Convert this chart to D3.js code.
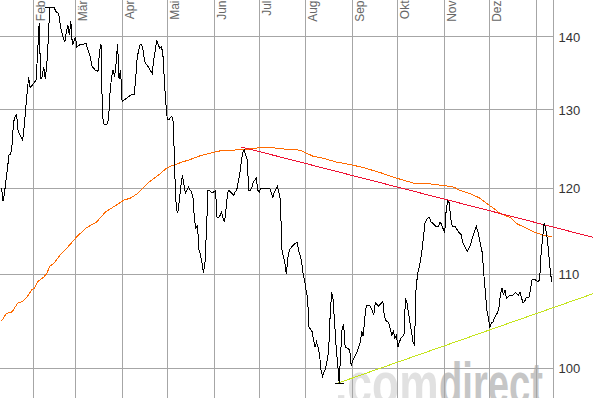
<!DOCTYPE html>
<html>
<head>
<meta charset="utf-8">
<style>
    body { margin: 0; background: #fff; }
    svg { display: block; font-family: "Liberation Sans", Arial, sans-serif; }
</style>
</head>
<body>
<svg id="chart"></svg>
<script src="https://cdn.jsdelivr.net/npm/d3@7/dist/d3.min.js"></script>
<script>
// Month labels (German), starting with January
const monthLabels = ['Jan', 'Feb', 'Mär', 'Apr', 'Mai', 'Jun', 'Jul', 'Aug', 'Sep', 'Okt', 'Nov', 'Dez'];
const yTicks = [100, 110, 120, 130, 140];

// Daily closing prices
const priceDates = [
    '2010-01-11', '2010-01-12', '2010-01-13', '2010-01-14', '2010-01-15', '2010-01-16', '2010-01-17', '2010-01-18',
    '2010-01-19', '2010-01-20', '2010-01-21', '2010-01-22', '2010-01-23', '2010-01-25', '2010-01-26', '2010-01-27',
    '2010-01-28', '2010-01-29', '2010-01-30', '2010-01-31', '2010-02-02', '2010-02-03', '2010-02-04', '2010-02-05',
    '2010-02-06', '2010-02-07', '2010-02-08', '2010-02-09', '2010-02-10', '2010-02-11', '2010-02-12', '2010-02-15',
    '2010-02-16', '2010-02-18', '2010-02-19', '2010-02-20', '2010-02-21', '2010-02-22', '2010-02-23', '2010-02-24',
    '2010-02-25', '2010-02-26', '2010-02-27', '2010-02-28', '2010-03-01', '2010-03-02', '2010-03-04', '2010-03-06',
    '2010-03-08', '2010-03-10', '2010-03-11', '2010-03-12', '2010-03-14', '2010-03-16', '2010-03-17', '2010-03-18',
    '2010-03-19', '2010-03-20', '2010-03-22', '2010-03-23', '2010-03-24', '2010-03-25', '2010-03-26', '2010-03-27',
    '2010-03-28', '2010-03-29', '2010-03-30', '2010-03-31', '2010-04-01', '2010-04-03', '2010-04-05', '2010-04-07',
    '2010-04-09', '2010-04-10', '2010-04-11', '2010-04-12', '2010-04-13', '2010-04-14', '2010-04-15', '2010-04-16',
    '2010-04-18', '2010-04-21', '2010-04-22', '2010-04-23', '2010-04-24', '2010-04-25', '2010-04-26', '2010-04-27',
    '2010-04-28', '2010-04-29', '2010-04-30', '2010-05-01', '2010-05-02', '2010-05-03', '2010-05-04', '2010-05-05',
    '2010-05-06', '2010-05-07', '2010-05-08', '2010-05-09', '2010-05-10', '2010-05-11', '2010-05-12', '2010-05-13',
    '2010-05-14', '2010-05-15', '2010-05-17', '2010-05-18', '2010-05-19', '2010-05-20', '2010-05-21', '2010-05-22',
    '2010-05-23', '2010-05-24', '2010-05-25', '2010-05-26', '2010-05-27', '2010-05-28', '2010-05-29', '2010-05-30',
    '2010-05-31', '2010-06-02', '2010-06-03', '2010-06-04', '2010-06-05', '2010-06-06', '2010-06-07', '2010-06-08',
    '2010-06-09', '2010-06-10', '2010-06-11', '2010-06-14', '2010-06-15', '2010-06-16', '2010-06-18', '2010-06-19',
    '2010-06-20', '2010-06-21', '2010-06-23', '2010-06-24', '2010-06-25', '2010-06-26', '2010-06-27', '2010-06-29',
    '2010-06-30', '2010-07-01', '2010-07-02', '2010-07-08', '2010-07-10', '2010-07-11', '2010-07-13', '2010-07-14',
    '2010-07-15', '2010-07-16', '2010-07-17', '2010-07-18', '2010-07-19', '2010-07-20', '2010-07-21', '2010-07-23',
    '2010-07-26', '2010-07-27', '2010-07-29', '2010-07-30', '2010-07-31', '2010-08-01', '2010-08-02', '2010-08-03',
    '2010-08-05', '2010-08-06', '2010-08-07', '2010-08-08', '2010-08-09', '2010-08-10', '2010-08-11', '2010-08-12',
    '2010-08-14', '2010-08-15', '2010-08-16', '2010-08-17', '2010-08-18', '2010-08-19', '2010-08-20', '2010-08-21',
    '2010-08-22', '2010-08-23', '2010-08-24', '2010-08-25', '2010-08-26', '2010-08-27', '2010-08-30', '2010-08-31',
    '2010-09-01', '2010-09-04', '2010-09-06', '2010-09-07', '2010-09-08', '2010-09-09', '2010-09-10', '2010-09-12',
    '2010-09-13', '2010-09-15', '2010-09-16', '2010-09-18', '2010-09-21', '2010-09-22', '2010-09-23', '2010-09-25',
    '2010-09-26', '2010-09-27', '2010-09-28', '2010-09-29', '2010-09-30', '2010-10-01', '2010-10-02', '2010-10-03',
    '2010-10-05', '2010-10-06', '2010-10-07', '2010-10-08', '2010-10-09', '2010-10-10', '2010-10-11', '2010-10-12',
    '2010-10-13', '2010-10-14', '2010-10-15', '2010-10-16', '2010-10-17', '2010-10-18', '2010-10-19', '2010-10-20',
    '2010-10-21', '2010-10-22', '2010-10-23', '2010-10-24', '2010-10-26', '2010-10-28', '2010-10-29', '2010-10-30',
    '2010-11-01', '2010-11-02', '2010-11-03', '2010-11-04', '2010-11-05', '2010-11-06', '2010-11-08', '2010-11-10',
    '2010-11-12', '2010-11-13', '2010-11-16', '2010-11-18', '2010-11-20', '2010-11-22', '2010-11-23', '2010-11-24',
    '2010-11-26', '2010-11-27', '2010-11-28', '2010-11-29', '2010-11-30', '2010-12-01', '2010-12-02', '2010-12-03',
    '2010-12-04', '2010-12-06', '2010-12-07', '2010-12-08', '2010-12-09', '2010-12-10', '2010-12-11', '2010-12-12',
    '2010-12-13', '2010-12-14', '2010-12-16', '2010-12-18', '2010-12-20', '2010-12-21', '2010-12-22', '2010-12-23',
    '2010-12-24', '2010-12-25', '2010-12-27', '2010-12-29', '2010-12-31', '2011-01-02', '2011-01-03', '2011-01-04',
    '2011-01-05', '2011-01-06', '2011-01-07', '2011-01-08', '2011-01-09', '2011-01-10', '2011-01-11'
];
const priceValues = [
    120.1, 118.5, 119.5, 121.1, 122.6, 124.2, 124.2, 125.5,
    128.4, 129.1, 129.4, 127.2, 126.8, 126.1, 127.7, 130.0,
    132.3, 134.4, 133.0, 133.2, 133.7, 134.1, 138.0, 142.0,
    134.1, 134.5, 135.8, 134.2, 135.9, 139.6, 144.3, 144.2,
    143.7, 143.3, 141.7, 140.6, 139.9, 139.3, 140.7, 141.7,
    140.3, 142.2, 138.9, 139.3, 140.0, 138.6, 138.9, 138.9,
    139.1, 137.8, 137.1, 135.9, 135.4, 135.2, 137.8, 139.0,
    129.1, 128.1, 128.1, 128.7, 132.3, 134.4, 135.4, 134.4,
    136.3, 139.0, 134.1, 135.4, 131.1, 131.4, 131.7, 132.0,
    132.0, 134.1, 137.1, 138.1, 139.0, 138.9, 138.0, 136.5,
    135.9, 134.9, 136.8, 138.1, 139.5, 138.9, 138.4, 138.6,
    137.8, 134.1, 130.9, 128.7, 128.7, 129.0, 129.1, 128.4,
    121.7, 117.5, 117.1, 118.7, 120.3, 121.7, 120.5, 119.5,
    119.8, 120.2, 119.6, 119.0, 116.3, 115.3, 115.7, 112.8,
    112.2, 111.3, 110.2, 111.3, 115.1, 119.8, 119.8, 119.6,
    119.5, 119.8, 116.5, 116.5, 116.8, 117.2, 116.5, 116.0,
    117.7, 119.5, 119.8, 119.2, 119.6, 119.8, 121.7, 123.2,
    124.5, 124.8, 123.6, 119.8, 119.8, 120.1, 120.8, 121.3,
    119.8, 119.6, 120.0, 120.0, 118.9, 119.6, 120.3, 119.6,
    118.7, 112.8, 112.0, 111.3, 110.0, 111.9, 112.8, 113.2,
    113.7, 112.8, 111.6, 110.2, 109.4, 108.3, 107.5, 104.3,
    103.8, 102.9, 102.2, 102.7, 102.2, 101.4, 99.8, 99.2,
    100.0, 100.8, 101.7, 105.4, 108.0, 107.2, 104.7, 102.2,
    100.5, 98.5, 101.6, 104.2, 104.5, 102.2, 101.9, 100.2,
    100.8, 101.7, 102.7, 103.8, 103.3, 105.2, 106.6, 106.6,
    106.4, 105.6, 106.9, 106.5, 107.0, 105.4, 105.0, 104.7,
    104.0, 103.4, 103.8, 103.1, 103.4, 102.2, 102.7, 103.1,
    103.4, 107.4, 106.9, 105.8, 104.7, 103.8, 102.7, 102.4,
    108.3, 110.0, 110.7, 111.6, 112.8, 114.3, 115.9, 116.3,
    116.5, 116.5, 116.0, 115.9, 115.5, 115.5, 116.0, 115.7,
    114.7, 117.4, 118.5, 118.3, 116.5, 115.5, 115.5, 114.9,
    114.5, 113.6, 112.6, 113.3, 114.5, 115.5, 114.9, 114.1,
    112.4, 110.0, 108.0, 106.1, 105.2, 104.2, 104.7, 104.8,
    105.2, 105.8, 106.3, 107.8, 108.5, 107.7, 108.3, 107.4,
    107.5, 107.7, 107.7, 108.0, 107.7, 108.0, 107.4, 106.9,
    107.0, 107.4, 107.5, 109.4, 109.4, 109.2, 109.4, 112.4,
    114.1, 115.9, 115.3, 114.1, 112.5, 110.5, 109.2
];

// Moving average (orange)
const avgDates = [
    '2010-01-11', '2010-01-14', '2010-01-18', '2010-01-20', '2010-01-22', '2010-01-25', '2010-01-28', '2010-01-31',
    '2010-02-02', '2010-02-04', '2010-02-08', '2010-02-10', '2010-02-12', '2010-02-15', '2010-02-19', '2010-02-25',
    '2010-03-02', '2010-03-08', '2010-03-15', '2010-03-21', '2010-03-28', '2010-04-02', '2010-04-07', '2010-04-11',
    '2010-04-15', '2010-04-18', '2010-04-24', '2010-05-01', '2010-05-05', '2010-05-11', '2010-05-16', '2010-05-23',
    '2010-05-29', '2010-06-05', '2010-06-14', '2010-06-23', '2010-07-01', '2010-07-10', '2010-07-19', '2010-07-28',
    '2010-08-06', '2010-08-12', '2010-08-21', '2010-08-30', '2010-09-08', '2010-09-19', '2010-09-30', '2010-10-11',
    '2010-10-22', '2010-10-31', '2010-11-07', '2010-11-11', '2010-11-18', '2010-11-24', '2010-11-29', '2010-12-03',
    '2010-12-08', '2010-12-15', '2010-12-19', '2010-12-25', '2010-12-31', '2011-01-05', '2011-01-11'
];
const avgValues = [
    104.9, 105.7, 105.9, 106.4, 106.9, 107.0, 107.5, 108.3,
    108.5, 109.2, 109.7, 110.1, 110.9, 111.3, 112.2, 113.3,
    114.3, 115.3, 116.0, 117.2, 118.0, 118.6, 118.9, 119.4,
    120.1, 120.7, 121.5, 122.6, 122.9, 123.3, 123.6, 124.1,
    124.4, 124.7, 124.8, 124.9, 125.1, 125.1, 124.9, 124.8,
    124.0, 123.8, 123.3, 123.0, 122.6, 122.0, 121.3, 120.7,
    120.6, 120.4, 120.2, 119.8, 119.4, 118.9, 118.2, 117.7,
    117.0, 116.5, 115.8, 115.3, 114.8, 114.5, 114.3
];

// Trend lines: [date, value] end points
const resistanceLine = [['2010-06-19', 125.2], ['2011-02-08', 114.2]];
const supportLine = [['2010-08-22', 98.5], ['2011-02-08', 107.9]];

class PriceChart {

    constructor(_config) {
        this.config = {
            parentElement: _config.parentElement,
            containerWidth: 593,
            containerHeight: 398,
            plotRight: 553,
            markerHalfWidth: 4.5
        };
        this.parseDate = d3.timeParse('%Y-%m-%d');
        this.initVis();
    }

    initVis() {
        let vis = this;
        const cfg = vis.config;

        vis.price = priceDates.map((d, i) => ({ date: vis.parseDate(d), value: priceValues[i] }));
        vis.average = avgDates.map((d, i) => ({ date: vis.parseDate(d), value: avgValues[i] }));
        vis.resistance = resistanceLine.map(d => ({ date: vis.parseDate(d[0]), value: d[1] }));
        vis.support = supportLine.map(d => ({ date: vis.parseDate(d[0]), value: d[1] }));

        // Calendar time, Jan 10 at the left edge
        vis.xScale = d3.scaleTime()
            .domain([vis.parseDate('2010-01-10'), vis.parseDate('2011-01-01')])
            .range([0, 536.6]);

        // Price axis is logarithmic
        vis.yScale = d3.scaleLog()
            .domain([100, 140])
            .range([368.3, 36.9]);

        vis.svg = d3.select(cfg.parentElement)
            .attr('width', cfg.containerWidth)
            .attr('height', cfg.containerHeight);

        const crisp = v => Math.floor(v) + 0.5;

        // Watermark (sits behind everything), squeezed horizontally
        const mark = vis.svg.append('g')
            .attr('class', 'watermark')
            .style('font-weight', 'bold')
            .style('font-size', '60px');
        mark.append('text')
            .attr('transform', 'translate(335,404) scale(0.74,1)')
            .attr('fill', '#e1e1e1')
            .text('.com');
        mark.append('text')
            .attr('transform', 'translate(439,404) scale(0.636,1)')
            .attr('fill', '#c6c6c6')
            .text('direct');

        // Month gridlines and labels
        const months = d3.timeMonth.range(vis.parseDate('2010-02-01'), vis.parseDate('2011-01-02'));
        const grid = vis.svg.append('g')
            .attr('class', 'grid')
            .attr('stroke', '#a6a6a6')
            .attr('shape-rendering', 'crispEdges');

        grid.selectAll('.vline')
            .data(months)
            .join('line')
            .attr('class', 'vline')
            .attr('x1', d => crisp(vis.xScale(d)))
            .attr('x2', d => crisp(vis.xScale(d)))
            .attr('y1', 0)
            .attr('y2', cfg.containerHeight);

        grid.append('line')
            .attr('x1', cfg.plotRight + 0.5)
            .attr('x2', cfg.plotRight + 0.5)
            .attr('y1', 0)
            .attr('y2', cfg.containerHeight);

        grid.selectAll('.hline')
            .data(yTicks)
            .join('line')
            .attr('class', 'hline')
            .attr('x1', 0)
            .attr('x2', cfg.plotRight)
            .attr('y1', d => crisp(vis.yScale(d)))
            .attr('y2', d => crisp(vis.yScale(d)));

        vis.svg.selectAll('.month-label')
            .data(months.filter(d => d.getMonth() !== 0))
            .join('text')
            .attr('class', 'month-label')
            .attr('transform', d => `translate(${Math.floor(vis.xScale(d)) + 12},0) rotate(-90)`)
            .attr('x', -0.5)
            .attr('text-anchor', 'end')
            .attr('fill', '#666')
            .style('font-size', '12px')
            .text(d => monthLabels[d.getMonth()]);

        // Right price axis labels
        vis.svg.selectAll('.y-label')
            .data(yTicks)
            .join('text')
            .attr('class', 'y-label')
            .attr('x', cfg.plotRight + 5.5)
            .attr('y', d => vis.yScale(d))
            .attr('dy', '0.36em')
            .attr('fill', '#333')
            .style('font-size', '13px')
            .text(d => d);
    }

    renderVis() {
        let vis = this;
        const cfg = vis.config;

        const line = d3.line()
            .x(d => vis.xScale(d.date))
            .y(d => vis.yScale(d.value));

        // Aliased 1px lines, like the original bitmap chart
        const lines = vis.svg.append('g')
            .attr('fill', 'none')
            .attr('stroke-width', 1)
            .attr('shape-rendering', 'crispEdges');

        lines.append('path')
            .datum(vis.average)
            .attr('stroke', '#ff6a00')
            .attr('d', line);

        lines.append('path')
            .datum(vis.resistance)
            .attr('stroke', '#ee1133')
            .attr('d', line);

        lines.append('path')
            .datum(vis.support)
            .attr('stroke', '#c4e41a')
            .attr('d', line);

        lines.append('path')
            .datum(vis.price)
            .attr('stroke', '#000')
            .attr('d', line);

        // Short horizontal markers at the high and the low
        const extremes = [d3.greatest(vis.price, d => d.value), d3.least(vis.price, d => d.value)];
        lines.selectAll('.marker')
            .data(extremes)
            .join('line')
            .attr('class', 'marker')
            .attr('stroke', '#000')
            .attr('x1', d => vis.xScale(d.date) - cfg.markerHalfWidth)
            .attr('x2', d => vis.xScale(d.date) + cfg.markerHalfWidth)
            .attr('y1', d => Math.floor(vis.yScale(d.value)) + 0.5)
            .attr('y2', d => Math.floor(vis.yScale(d.value)) + 0.5);
    }
}

const chart = new PriceChart({ parentElement: '#chart' });
chart.renderVis();
</script>
</body>
</html>
